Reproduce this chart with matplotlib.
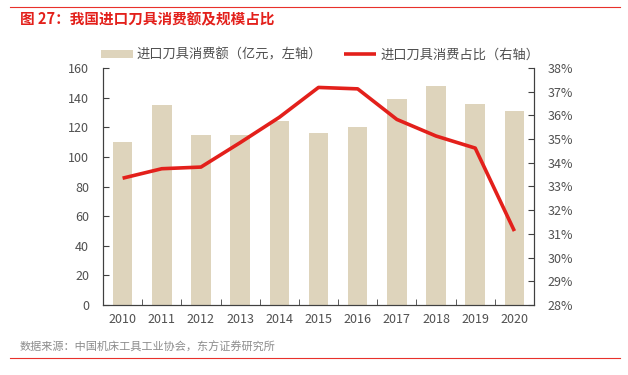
import matplotlib
matplotlib.use("Agg")
import matplotlib.pyplot as plt
from matplotlib.ticker import FuncFormatter, MultipleLocator

plt.rcParams['font.family'] = ['Noto Sans CJK SC', 'DejaVu Sans']

years = ['2010', '2011', '2012', '2013', '2014', '2015', '2016', '2017', '2018', '2019', '2020']
import_value = [110, 135, 115, 115, 124, 116, 120, 139, 148, 136, 131]
import_share = [33.35, 33.75, 33.82, 34.85, 35.92, 37.18, 37.12, 35.83, 35.13, 34.62, 31.12]

bar_color = '#DED4BC'
line_color = '#E3201B'
text_color = '#505050'

fig = plt.figure(figsize=(6.28, 3.75), dpi=100)
ax = fig.add_axes([103 / 628, 70 / 375, 431 / 628, 237 / 375])
ax2 = ax.twinx()

x = list(range(len(years)))
bars = ax.bar(x, import_value, width=0.5, color=bar_color, label='进口刀具消费额（亿元，左轴）', zorder=1)
line, = ax2.plot(x, import_share, color=line_color, lw=2.6, label='进口刀具消费占比（右轴）',
                 solid_capstyle='butt')

ax.set_xlim(-0.5, len(years) - 0.5)
ax.set_ylim(0, 160)
ax.yaxis.set_major_locator(MultipleLocator(20))
ax2.set_ylim(28, 38)
ax2.yaxis.set_major_locator(MultipleLocator(1))
ax2.yaxis.set_major_formatter(FuncFormatter(lambda v, p: f'{v:.0f}%'))

ax.set_xticks(x)
ax.set_xticklabels(years)
ax.set_xticks([i + 0.5 for i in x[:-1]], minor=True)
ax.tick_params(axis='x', which='major', length=0, pad=6)
ax.tick_params(axis='x', which='minor', direction='in', length=4, color='#404040')
ax.tick_params(axis='y', direction='in', length=4, color='#404040', pad=10)
ax2.tick_params(axis='y', direction='in', length=4, color='#404040', pad=10)
for a in (ax, ax2):
    a.tick_params(labelsize=9, labelcolor=text_color)
    for s in a.spines.values():
        s.set_color('#404040')
        s.set_linewidth(0.8)
ax.spines['top'].set_visible(False)
ax2.spines['top'].set_visible(False)

ax.set_zorder(ax2.get_zorder() - 1)
ax2.patch.set_visible(False)

fig.legend(handles=[bars, line], loc='center', bbox_to_anchor=(320 / 628, 1 - 55 / 375), ncol=2,
           frameon=False, fontsize=9.5, labelcolor=text_color, handlelength=2.4, handleheight=0.5,
           columnspacing=1.7, handletextpad=0.3)

# header and footer
fig.add_artist(plt.Line2D([10 / 628, 620 / 628], [1 - 7 / 375, 1 - 7 / 375], color='#E8312B', lw=0.8))
fig.text(20 / 628, 1 - 19 / 375, '图 27：我国进口刀具消费额及规模占比', color='#E3201B', fontsize=10.5,
         fontweight='bold', va='center', ha='left')
fig.text(20 / 628, 1 - 347 / 375, '数据来源：中国机床工具工业协会，东方证券研究所', color='#8C8C8C', fontsize=8,
         va='center', ha='left')
fig.add_artist(plt.Line2D([10 / 628, 620 / 628], [1 - 358 / 375, 1 - 358 / 375], color='#E8312B', lw=0.8))

fig.savefig('out.png', dpi=100)
